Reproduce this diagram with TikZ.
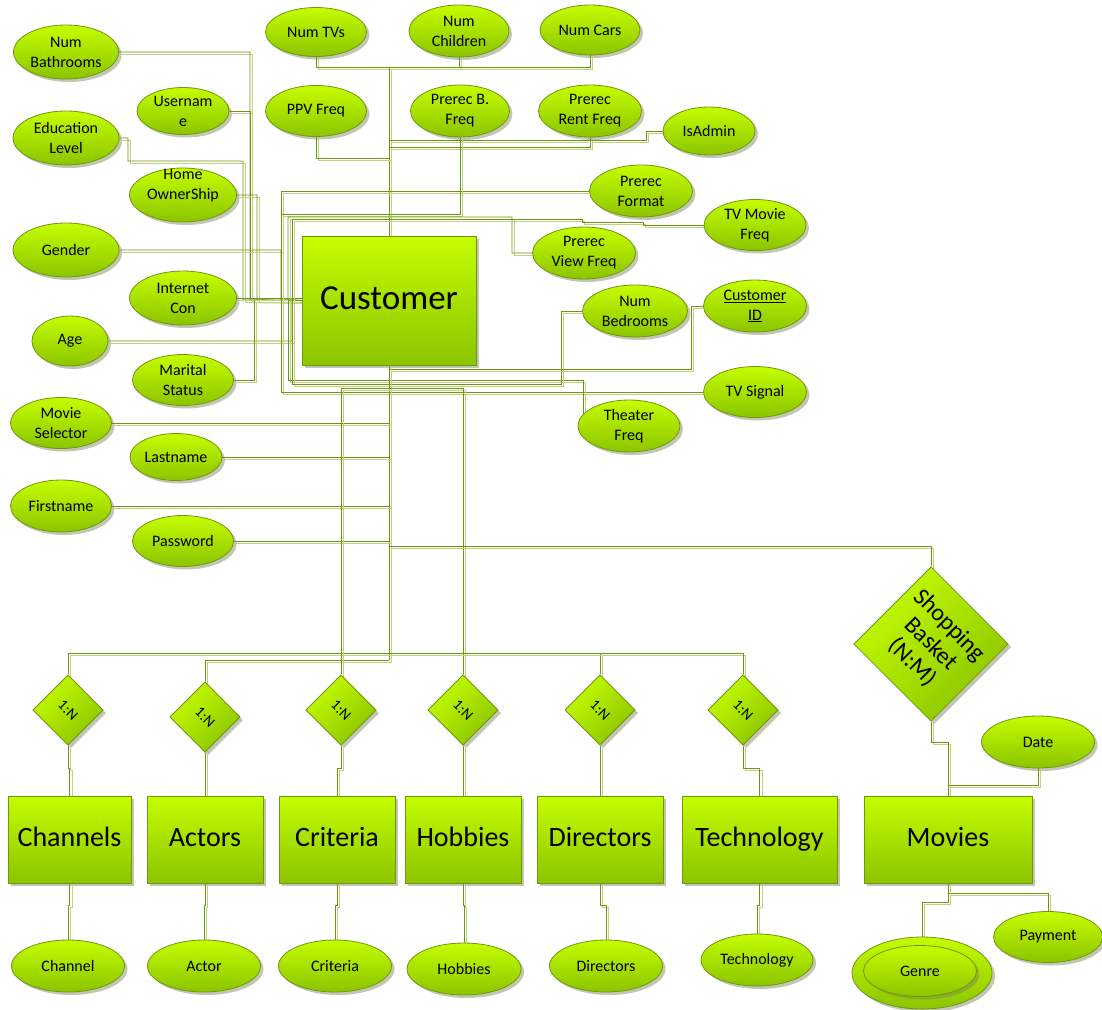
\documentclass[tikz,border=0pt]{standalone}
\usepackage{fontspec}
\setmainfont{Carlito}
\usetikzlibrary{shapes.geometric,shadows}
\pgfdeclarelayer{background}
\pgfsetlayers{background,main}

\definecolor{limetop}{RGB}{196,253,0}
\definecolor{limebot}{RGB}{140,196,0}
\definecolor{limeedge}{RGB}{112,150,18}
\definecolor{wirecol}{RGB}{112,150,12}
\definecolor{wireshade}{RGB}{190,212,130}
\definecolor{shadecol}{RGB}{120,132,88}

\tikzset{
  greenfill/.style={draw=limeedge, line width=0.8pt, top color=limetop, bottom color=limebot},
  softshadow/.style={drop shadow={shadow xshift=3pt, shadow yshift=-3pt, fill=shadecol, opacity=0.45}},
  attr/.style={ellipse, greenfill, softshadow, inner sep=0pt, align=center,
    font=\fontsize{16}{20}\selectfont},
  entity/.style={rectangle, greenfill, softshadow, inner sep=0pt, minimum height=87pt,
    text height=20pt, text depth=6pt, font=\fontsize{28}{32}\selectfont},
  rel/.style={rectangle, greenfill, softshadow, rotate=-45, shading angle=45, inner sep=0pt,
    minimum size=49.5pt, align=center, font=\fontsize{15}{17}\selectfont},
  wire/.style={draw=wirecol, line width=0.9pt},
  wireshadow/.style={draw=wireshade, line width=0.9pt, transform canvas={shift={(2.5pt,-2.5pt)}}},
}
% a connector drawn with its pale companion line
\newcommand\wireto[1]{\path[wireshadow] #1; \path[wire] #1;}

\begin{document}
\begin{tikzpicture}[x=1pt,y=-1pt]
\useasboundingbox (0,0) rectangle (1102,1009);

% ---------- central entity ----------
\node[entity, minimum width=174pt, minimum height=129pt, text height=25pt, text depth=8pt,
      font=\fontsize{35}{40}\selectfont] (cust) at (389,300.5) {Customer};

% ---------- attributes around Customer ----------
\node[attr, minimum width=105pt, minimum height=54pt] (nbath)   at (66,52)   {Num\\Bathrooms};
\node[attr, minimum width=101pt, minimum height=49pt] (ntv)     at (316,32)  {Num TVs};
\node[attr, minimum width=100pt, minimum height=52pt] (nchild)  at (459,31)  {Num\\Children};
\node[attr, minimum width=100pt, minimum height=50pt] (ncars)   at (590,30)  {Num Cars};
\node[attr, minimum width=92pt,  minimum height=47pt] (user)    at (183,111) {Usernam\\e};
\node[attr, minimum width=101pt, minimum height=51pt] (ppv)     at (316,111) {PPV Freq};
\node[attr, minimum width=99pt,  minimum height=52pt] (prb)     at (460,111) {Prerec B.\\Freq};
\node[attr, minimum width=103pt, minimum height=52pt] (prr)     at (590,111) {Prerec\\Rent Freq};
\node[attr, minimum width=92pt,  minimum height=48pt] (admin)   at (709,131) {IsAdmin};
\node[attr, minimum width=106pt, minimum height=54pt] (edu)     at (66,138)  {Education\\Level};
\node[attr, minimum width=107pt, minimum height=54pt] (home)    at (183,195) {};
\node[align=center, font=\fontsize{16}{20}\selectfont, inner sep=0pt] (homelbl) at (183,186) {Home\\OwnerShip};
\node[attr, minimum width=103pt, minimum height=52pt] (pfmt)    at (641,191) {Prerec\\Format};
\node[attr, minimum width=102pt, minimum height=51pt] (tvmf)    at (755,225) {TV Movie\\Freq};
\node[attr, minimum width=103pt, minimum height=52pt] (pview)   at (584,253) {Prerec\\View Freq};
\node[attr, minimum width=106pt, minimum height=54pt] (gender)  at (66,250)  {Gender};
\node[attr, minimum width=107pt, minimum height=54pt] (inet)    at (183,298) {Internet\\Con};
\node[attr, minimum width=76pt,  minimum height=50pt] (age)     at (70,341)  {Age};
\node[attr, minimum width=101pt, minimum height=51pt] (marital) at (183,380) {Marital\\Status};
\node[attr, minimum width=105pt, minimum height=52pt] (nbed)    at (635,311) {Num\\Bedrooms};
\node[attr, minimum width=103pt, minimum height=52pt] (cid)     at (755,306) {\underline{Customer}\\\underline{ID}};
\node[attr, minimum width=103pt, minimum height=51pt] (tvsig)   at (755,392) {TV Signal};
\node[attr, minimum width=102pt, minimum height=52pt] (theater) at (629,426) {Theater\\Freq};
\node[attr, minimum width=101pt, minimum height=51pt] (msel)    at (61,423)  {Movie\\Selector};
\node[attr, minimum width=92pt,  minimum height=47pt] (lname)   at (176,457) {Lastname};
\node[attr, minimum width=101pt, minimum height=52pt] (fname)   at (61,506)  {Firstname};
\node[attr, minimum width=101pt, minimum height=51pt] (pwd)     at (183,541) {Password};

% ---------- relationships ----------
\node[rel] (d1) at (68,710)  {1:N};
\node[rel] (d2) at (205,717) {1:N};
\node[rel] (d3) at (341,710) {1:N};
\node[rel] (d4) at (463,710) {1:N};
\node[rel] (d5) at (600,710) {1:N};
\node[rel] (d6) at (743,710) {1:N};
\node[rel, minimum size=109pt, font=\fontsize{24}{26}\selectfont] (basket) at (931,644) {Shopping\\Basket\\(N:M)};

% ---------- lower entities ----------
\node[entity, minimum width=123pt] (channels) at (69.5,839.5) {Channels};
\node[entity, minimum width=116pt] (actors)   at (205,839.5)  {Actors};
\node[entity, minimum width=116pt] (criteria) at (337,839.5)  {Criteria};
\node[entity, minimum width=116pt] (hobbies)  at (463,839.5)  {Hobbies};
\node[entity, minimum width=126pt] (directors) at (600,839.5) {Directors};
\node[entity, minimum width=155pt] (techno)   at (759.5,839.5) {Technology};
\node[entity, minimum width=168pt] (movies)   at (948,839.5)  {Movies};

% ---------- attributes of lower entities ----------
\node[attr, minimum width=113pt, minimum height=52pt] (channel) at (68,966)  {Channel};
\node[attr, minimum width=113pt, minimum height=52pt] (actor)   at (204,966) {Actor};
\node[attr, minimum width=113pt, minimum height=52pt] (crit)    at (335,966) {Criteria};
\node[attr, minimum width=114pt, minimum height=52pt] (hobby)   at (464,969) {Hobbies};
\node[attr, minimum width=113pt, minimum height=52pt] (dirs)    at (606,966) {Directors};
\node[attr, minimum width=112pt, minimum height=52pt] (techa)   at (757,960) {Technology};
\node[attr, minimum width=113pt, minimum height=52pt] (date)    at (1038,742) {Date};
\node[attr, minimum width=109pt, minimum height=51pt] (payment) at (1048,937) {Payment};
\node[attr, minimum width=140pt, minimum height=72pt] (genre)   at (922,973) {};
\node[attr, minimum width=113pt, minimum height=51pt] (genrein) at (920,971) {Genre};

% ---------- connectors (behind the shapes) ----------
\begin{pgfonlayer}{background}
\fill[white] (0,0) rectangle (1102,1009);
% top group into Customer
\wireto{(ntv.south) |- (389,67) -- (cust.north)}
\wireto{(nchild.south) |- (389,67)}
\wireto{(ncars.south) |- (389,67)}
\wireto{(ppv.south) |- (389,158)}
\wireto{(prr.south) |- (389,147)}
\wireto{(admin.west) -- (646,131) |- (389,140)}
% left group into Customer
\wireto{(nbath.east) -| (250,300) -- (cust.west)}
\wireto{(user.east) -| (250,300)}
\wireto{(edu.east) -- (128,138) |- (243,161) -- (243,300) -- (cust.west)}
\wireto{(home.east) -| (257,300) -- (cust.west)}
\wireto{(gender.east) -| (281,300) -- (cust.west)}
\wireto{(inet.east) -- (inet.east -| cust.west)}
\wireto{(age.east) -| (292,300) -- (cust.west)}
\wireto{(marital.east) -| (254,300)}
% attributes routed round the left of Customer
\wireto{(pfmt.west) -| (281,300)}
\wireto{(prb.south) |- (281,214) -- (281,300)}
\wireto{(pview.west) -- (512,253) |- (288,217) -- (288,300) -- (cust.west)}
\wireto{(tvmf.west) -- (643,225) |- (582,222) |- (292,219) -- (292,300)}
\wireto{(tvsig.west) -| (281,300)}
\wireto{(theater.165) |- (288,380) -- (288,300)}
\wireto{(nbed.west) -- (561,311) |- (292,384) -- (292,300)}
\wireto{(cid.west) -- (691,306) |- (389,369)}
% below Customer
\wireto{(cust.south) -- (389,660)}
\wireto{(msel.east) -- (msel.east -| cust.south)}
\wireto{(lname.east) -- (lname.east -| cust.south)}
\wireto{(fname.east) -- (fname.east -| cust.south)}
\wireto{(pwd.east) -- (pwd.east -| cust.south)}
\wireto{(d1.north west) |- (389,653)}
\wireto{(d2.north west) |- (389,660)}
\wireto{(d3.north west) |- (389,388)}
\wireto{(d4.north west) |- (389,388)}
\wireto{(d5.north west) |- (389,653)}
\wireto{(d6.north west) |- (389,653)}
\wireto{(basket.north west) |- (389,546)}
% relationships to lower entities
\wireto{(d1.south east) -- (68,768) -| (channels.north)}
\wireto{(d2.south east) -- (actors.north)}
\wireto{(d3.south east) -- (341,768) -| (criteria.north)}
\wireto{(d4.south east) -- (hobbies.north)}
\wireto{(d5.south east) -- (directors.north)}
\wireto{(d6.south east) -- (743,768) -| (techno.north)}
\wireto{(basket.south east) -- (931,742) -| (movies.north)}
\wireto{(date.south) |- (948,785)}
% lower entities to their attributes
\wireto{(channels.south) -- (69.5,905) -| (channel.north)}
\wireto{(actors.south) -- (205,905) -| (actor.north)}
\wireto{(criteria.south) -- (337,905) -| (crit.north)}
\wireto{(hobbies.south) -- (463,905) -| (hobby.north)}
\wireto{(directors.south) -- (600,905) -| (dirs.north)}
\wireto{(techno.south) -- (759.5,905) -| (techa.north)}
\wireto{(movies.south) -- (948,893) -| (payment.north)}
\wireto{(movies.south) -- (948,902) -| (genre.north)}
\end{pgfonlayer}
\end{tikzpicture}
\end{document}
